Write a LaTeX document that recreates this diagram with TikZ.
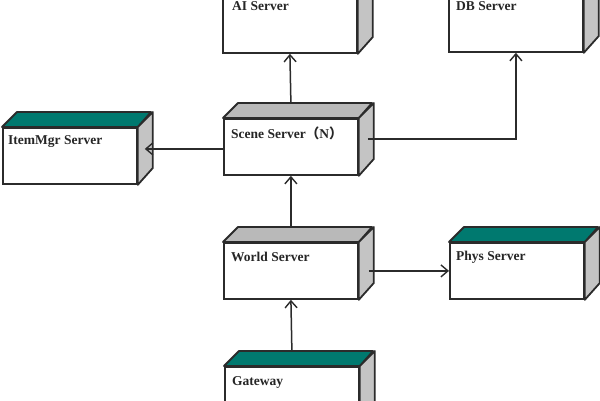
\documentclass[tikz,border=0pt]{standalone}
\usepackage{fontspec}
\setmainfont{Liberation Serif}
\newfontfamily\cjk{Noto Sans CJK SC}
\usetikzlibrary{arrows.meta,calc}
\definecolor{linec}{HTML}{2B2B2B}
\definecolor{tealtop}{HTML}{00796F}
\definecolor{graytop}{HTML}{B9B9B9}
\definecolor{sidegray}{HTML}{C4C4C4}
\tikzset{
  front/.style={draw=linec, line width=1.8pt, fill=white, minimum width=134pt,
    minimum height=56pt, inner sep=0pt, anchor=north west},
  face/.style={draw=linec, line width=1.8pt, line join=round},
  lbl/.style={anchor=west, inner sep=0pt, font=\bfseries\fontsize{13.5}{15}\selectfont, text=black!85},
  conn/.style={draw=linec, line width=1.5pt, -{Straight Barb[length=7pt,width=12pt,line width=1.4pt]}}
}
\newcommand\cubefaces[2]{%
  \draw[face, fill=#2] (#1.north west) -- ++(15,-15) -- ++(134,0) -- (#1.north east) -- cycle;
  \draw[face, fill=sidegray] (#1.north east) -- ++(15,-15) -- ++(0,56) -- (#1.south east) -- cycle;}
\begin{document}
\begin{tikzpicture}[x=1pt,y=-1pt]
\useasboundingbox (0,0) rectangle (600,400);
\clip (0,0) rectangle (600,400);
\fill[white] (0,0) rectangle (600,400);
% nodes (front faces)
\node[front] (ai) at (222,-4) {};
\node[front] (db) at (448,-5) {};
\node[front] (scene) at (223,118) {};
\node[front] (item) at (2,127) {};
\node[front] (world) at (223,242) {};
\node[front] (phys) at (449,242) {};
\node[front] (gate) at (224,366) {};
\cubefaces{ai}{graytop}
\cubefaces{db}{graytop}
\cubefaces{scene}{graytop}
\cubefaces{item}{tealtop}
\cubefaces{world}{graytop}
\cubefaces{phys}{tealtop}
\cubefaces{gate}{tealtop}
% labels
\node[lbl] (ait) at (232,6) {AI Server};
\node[lbl] (dbt) at (456,6) {DB Server};
\node[lbl] (scenet) at ($(scene.north west)+(8,15)$) {Scene Server{\cjk （}N{\cjk ）}};
\node[lbl] (itemt) at ($(item.north west)+(6,15)$) {ItemMgr Server};
\node[lbl] (worldt) at ($(world.north west)+(8,15)$) {World Server};
\node[lbl] (physt) at ($(phys.north west)+(7,15)$) {Phys Server};
\node[lbl] (gatet) at ($(gate.north west)+(8,16)$) {Gateway};
% connectors
\draw[conn] ([yshift=15pt]scene.north) -- (ai.south);
\draw[conn] ([yshift=-2pt]scene.west) -- ([xshift=7pt,yshift=-2pt]scene.west -| item.east);
\draw[conn] ([xshift=9pt,yshift=8pt]scene.east) -| (db.south);
\draw[conn] ([yshift=15pt]world.north) -- (scene.south);
\draw[conn] ([xshift=10pt]world.east) -- (phys.west);
\draw[conn] ([yshift=15pt]gate.north) -- (world.south);
\end{tikzpicture}
\end{document}
